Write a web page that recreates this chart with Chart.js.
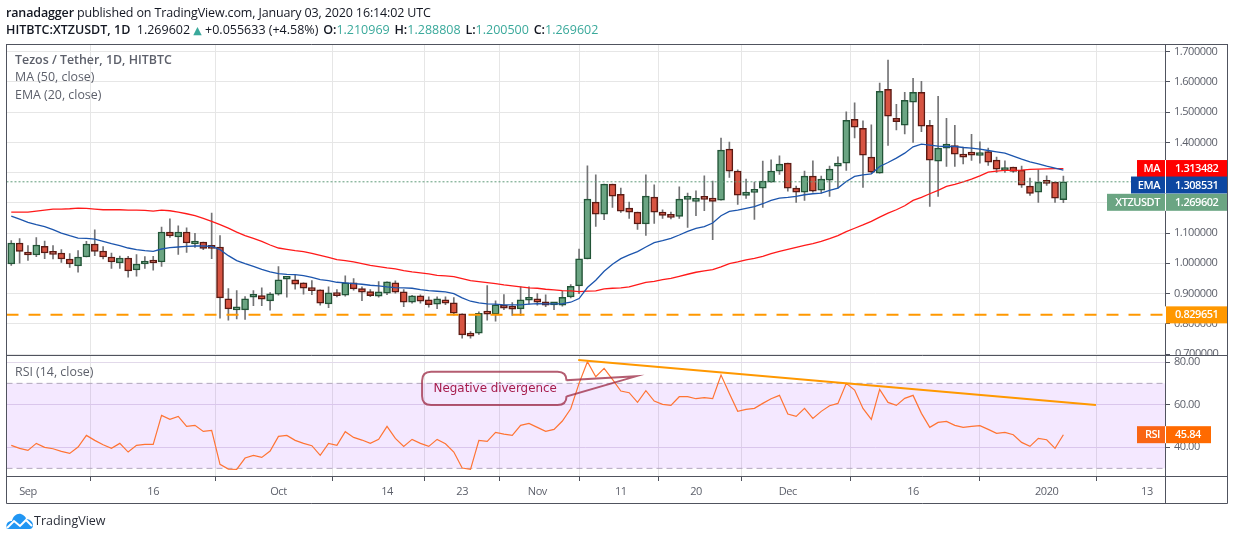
<!DOCTYPE html>
<html>
<head>
<meta charset="utf-8">
<title>XTZUSDT</title>
<script src="https://cdn.jsdelivr.net/npm/chart.js@4"></script>
<style>
  html, body { margin: 0; padding: 0; background: #fff; width: 1234px; height: 540px; overflow: hidden; }
  canvas { position: absolute; left: 0; top: 0; }
  .t { position: absolute; white-space: nowrap; font-family: "Open Sans", sans-serif; line-height: 16px; }
  .h { font-size: 12.5px; color: #131722; left: 6px; }
  .h b { font-weight: 600; }
  .h .k { margin-left: 1.5px; }
  .v { color: #3aa99b; }
  .l { font-size: 12.4px; color: #5d606b; left: 15px; }
</style>
</head>
<body>
<canvas id="chart" width="1234" height="540"></canvas>
<div class="t h" style="top:5px;letter-spacing:-0.14px"><b>ranadagger</b> published on TradingView.com, January 03, 2020 16:14:02 UTC</div>
<div class="t h" style="top:22px"><b>HITBTC:XTZUSDT, 1D</b>&nbsp; 1.269602 <span class="v" style="font-family:'DejaVu Sans';font-size:11px">▲</span> +0.055633 (+4.58%) <b class="k">O:</b><span class="v">1.210969</span> <b class="k">H:</b><span class="v">1.288808</span> <b class="k">L:</b><span class="v">1.200500</span> <b class="k">C:</b><span class="v">1.269602</span></div>
<div class="t l" style="top:52px;font-weight:600">Tezos / Tether, 1D, HITBTC</div>
<div class="t l" style="top:69px">MA (50, close)</div>
<div class="t l" style="top:87px">EMA (20, close)</div>
<div class="t l" style="top:364px">RSI (14, close)</div>
<svg style="position:absolute;left:6px;top:513px" width="27" height="17" viewBox="0 0 27 17">
  <path fill="#2196f3" d="M1 16 C-1 11 2 8 6 8 C7 3 11 0 15 1 C18 2 20 4 20 6 C24 6 27 9 27 12 C27 15 25 16 24 16 Z"/>
  <path fill="none" stroke="#fff" stroke-width="2" d="M1 15 L8 8 L14 13 L20 7 L26 13"/>
</svg>
<div class="t" style="left:34px;top:513px;font-size:12.5px;color:#2a2e39">TradingView</div>

<script>
// bougies journalieres, du 30 aout au 3 janvier
const opens = [.9979,1.0672,1.0375,1.0276,1.0562,1.0342,1.0342,1.0144,.9913,1.021,1.0639,1.0408,1.021,1.0012,1.0177,.9781,.9979,1.0023,1.0045,1.1035,1.087,1.1035,1.0639,1.0705,1.054,1.054,.8824,.8461,.8461,.8879,.8934,.8758,.8978,.9473,.9451,.9352,.9198,.9121,.8659,.9033,.8945,.9352,.9165,.9066,.8912,.9011,.9352,.9055,.8714,.8923,.8791,.8648,.8791,.8692,.8329,.7647,.7691,.834,.8318,.8615,.8494,.8494,.878,.8824,.8725,.8626,.8615,.889,.9253,1.0145,1.2026,1.163,1.262,1.2279,1.1828,1.1696,1.13,1.2191,1.1696,1.1564,1.1553,1.2114,1.2048,1.2158,1.2158,1.2092,1.3775,1.3049,1.2246,1.2345,1.2488,1.2686,1.3049,1.3313,1.2488,1.2356,1.2884,1.2422,1.2752,1.3214,1.3313,1.4765,1.4468,1.351,1.2983,1.5755,1.4798,1.4567,1.5326,1.5656,1.4567,1.3379,1.3808,1.3896,1.361,1.361,1.3566,1.3698,1.3412,1.3071,1.3181,1.3082,1.2554,1.2356,1.2708,1.2686,1.2108];
const highs = [1.0749,1.0815,1.0584,1.0848,1.0738,1.0584,1.0452,1.032,1.0419,1.0727,1.1112,1.0551,1.0342,1.0243,1.0232,1.0287,1.0221,1.0232,1.12,1.1475,1.1244,1.1178,1.0992,1.0705,1.1662,1.0914,.9165,.9099,.89,.9099,.9187,.9033,.9891,.9528,.9616,.9352,.9429,.9121,.922,.9132,.959,.9495,.922,.9132,.9396,.9385,.9418,.9132,.8945,.8956,.889,.889,.889,.8868,.8329,.7746,.8395,.9264,.8758,.8967,.8703,.922,.922,.8999,.8956,.8692,.9077,.9297,1.0475,1.3225,1.2928,1.262,1.262,1.2488,1.2026,1.1696,1.2928,1.2598,1.1773,1.1696,1.2532,1.2323,1.24,1.2895,1.2719,1.4138,1.4006,1.3093,1.2785,1.2686,1.3379,1.3423,1.3555,1.3313,1.2554,1.3049,1.339,1.2884,1.3214,1.3522,1.5007,1.5304,1.471,1.4578,1.5964,1.6723,1.526,1.5656,1.6118,1.6019,1.4732,1.5524,1.4798,1.4567,1.3841,1.427,1.4017,1.3808,1.3511,1.339,1.3181,1.3214,1.2818,1.3093,1.2895,1.2686,1.2888];
const lows = [.9935,1.0002,1.01,1.0221,1.0155,1.0144,1.0034,.9869,.9704,1.021,1.0254,1.0144,.9836,.9836,.9539,.9572,.9836,.977,.9902,1.0859,1.0298,1.0364,1.0529,1.0452,1.0155,.8186,.812,.8164,.8142,.8604,.8604,.845,.8945,.8879,.9143,.8978,.8967,.8615,.8538,.889,.8912,.911,.8769,.8901,.8879,.8967,.9011,.857,.8681,.8681,.8549,.8505,.8637,.8284,.7526,.7526,.7647,.812,.8087,.8472,.8274,.8274,.8648,.8615,.857,.8472,.8582,.8857,.9,1.0145,1.1223,1.1443,1.185,1.1685,1.1487,1.1124,1.0926,1.1322,1.1487,1.1465,1.1487,1.119,1.1575,1.174,1.0783,1.2092,1.284,1.1949,1.2147,1.1454,1.185,1.2686,1.2939,1.2389,1.2015,1.2081,1.2356,1.2323,1.2213,1.2488,1.3071,1.4149,1.251,1.2983,1.2983,1.3896,1.4413,1.428,1.4,1.4358,1.1882,1.2213,1.3203,1.3203,1.3291,1.3401,1.3313,1.3236,1.3005,1.3005,1.3005,1.251,1.2246,1.2015,1.2576,1.2015,1.2005];
const closes = [1.0672,1.0397,1.0276,1.0606,1.0342,1.0298,1.0144,.9979,1.021,1.0639,1.0397,1.021,1.0045,1.0177,.9748,.9979,1.0023,1.0012,1.1035,1.0903,1.1035,1.0672,1.0705,1.0496,1.0496,.8857,.8494,.8505,.8824,.8934,.8813,.8989,.9451,.9528,.9308,.9176,.9099,.8681,.9022,.8934,.9352,.9154,.9044,.8934,.9055,.9385,.9044,.8714,.8923,.8747,.8637,.8824,.8681,.835,.7636,.7591,.835,.8318,.8626,.8516,.8483,.8791,.8857,.8714,.8615,.8659,.8879,.9242,1.0145,1.2125,1.163,1.262,1.2224,1.1729,1.1696,1.13,1.2224,1.1696,1.1586,1.152,1.2125,1.2158,1.2092,1.2114,1.2048,1.3742,1.3049,1.2257,1.2356,1.24,1.2719,1.3049,1.328,1.2488,1.2356,1.2884,1.2389,1.2785,1.3115,1.3313,1.4732,1.4501,1.3577,1.3016,1.5689,1.4864,1.4688,1.5392,1.5656,1.4534,1.3412,1.3808,1.394,1.361,1.351,1.3577,1.361,1.3346,1.3115,1.3148,1.3038,1.2587,1.2312,1.2686,1.2642,1.2158,1.2696];

const ma50 = [1.1695,1.1695,1.1695,1.1728,1.1761,1.1794,1.1794,1.1805,1.1827,1.1816,1.1794,1.1772,1.1772,1.1772,1.1761,1.1761,1.175,1.1728,1.1761,1.1739,1.1695,1.164,1.1574,1.1486,1.1387,1.1277,1.1167,1.1035,1.0914,1.0826,1.0727,1.0606,1.0507,1.0463,1.0419,1.0386,1.0331,1.0265,1.0199,1.0122,1.0089,1.0045,.999,.9935,.9891,.9847,.9814,.9759,.9715,.9682,.9649,.9605,.9583,.9561,.9495,.9429,.9396,.9363,.933,.9286,.9253,.922,.9187,.9176,.9143,.9121,.9099,.9088,.9066,.9078,.9088,.9154,.9176,.9187,.922,.9297,.9374,.9407,.9462,.9506,.9572,.9639,.9705,.9749,.9793,.9881,.9991,1.0046,1.0112,1.0167,1.0233,1.0321,1.0398,1.0464,1.053,1.0596,1.0651,1.0728,1.0816,1.0915,1.1047,1.116,1.127,1.139,1.153,1.1662,1.1772,1.1904,1.2081,1.218,1.2301,1.2411,1.2543,1.2609,1.2697,1.2785,1.2895,1.3016,1.3049,1.3071,1.3071,1.3082,1.3104,1.3115,1.3126,1.3132,1.3135];
const ema20 = [1.1563,1.1464,1.1354,1.1277,1.1211,1.1112,1.1002,1.0914,1.0837,1.0826,1.0804,1.0727,1.065,1.0584,1.0507,1.0452,1.0419,1.0397,1.0474,1.0518,1.054,1.0562,1.0573,1.0573,1.0562,1.0452,1.0254,1.0089,.999,.9902,.9803,.9715,.966,.9638,.9627,.9594,.9539,.9462,.9429,.9374,.9352,.933,.9308,.9275,.9253,.922,.9198,.9187,.9176,.9132,.9099,.9077,.9055,.9,.8857,.8747,.8692,.8659,.8648,.8626,.8626,.8626,.8648,.867,.8659,.8659,.867,.8714,.8835,.92,.9441,.9738,.9969,1.0156,1.0277,1.0387,1.0541,1.0684,1.075,1.0827,1.0937,1.1058,1.1157,1.1212,1.1333,1.1575,1.1718,1.1762,1.1817,1.1872,1.1971,1.2081,1.2158,1.218,1.2213,1.2268,1.2301,1.2323,1.2411,1.2488,1.2708,1.2873,1.2928,1.2961,1.3203,1.3335,1.3478,1.3643,1.3852,1.394,1.3907,1.3874,1.3863,1.3863,1.383,1.3808,1.3775,1.3731,1.3687,1.3643,1.3544,1.3445,1.3357,1.3291,1.3214,1.3148,1.3085];
const rsi14 = [40.81,39.4,38.45,41.75,39.87,39.24,37.98,37.04,40.02,45.51,43.16,41.12,39.4,41.75,37.67,40.81,41.28,41.28,54.92,53.04,54.45,49.75,50.22,47.4,47.87,31.87,29.67,29.51,34.85,36.1,35.16,38.14,45.04,45.51,43.16,41.75,40.65,36.1,41.75,40.8,47.24,44.57,43.31,41.75,43.63,49.75,44.1,40.33,43.63,41.75,40.34,43.63,41.59,37.67,30.14,29.51,43.16,42.69,46.92,46.14,45.51,50.22,51.16,49.28,47.4,48.34,52.26,58.06,69.98,80.18,73.12,77.04,71.87,66.38,65.59,61.04,66.53,61.67,60.1,59.63,63.71,63.71,62.77,63.24,62.77,73.91,65.28,56.81,57.75,58.22,60.57,62.77,64.34,55.55,54.45,58.22,53.51,56.81,59.47,60.57,69.98,66.85,58.22,53.04,67.16,61.04,59.63,62.92,64.34,55.87,49.28,51.63,52.1,50.22,49.28,49.75,50.06,48.34,46.45,46.92,45.83,42.22,40.34,44.1,43.47,39.4,45.84];

// axes
const timeTicks = [2,17,32,45,54,63,73,82,93,108,124,136];
const timeLabels = ["Sep","16","Oct","14","23","Nov","11","20","Dec","16","2020","13"];
const priceTicks = [0.7,0.8,0.9,1.0,1.1,1.2,1.3,1.4,1.5,1.6,1.7];
const rsiTicks = [40,60,80];

// niveaux et lignes tracees a la main sur le graphique
const supportLevel = 0.829651;
const lastPrice = 1.269602;
const lastMa = 1.313482;
const lastEma = 1.308531;
const lastRsi = 45.84;
const rsiBand = [70, 30];
const trendX = [67.9, 129.9];
const trendY = [81, 59.8];

const xMin = -0.57;
const xMax = 138.17;
const FONT = '"Open Sans", sans-serif';
const TIGHT = "-0.45px";

const upFill = "#6ba583", upLine = "#225437";
const downFill = "#d75442", downLine = "#5b1a13";

const isUp = (i) => closes[i] >= opens[i];
const series = (arr) => arr.map((v, i) => ({ x: i, y: v }));
const hLine = (v) => [{ x: xMin, y: v }, { x: xMax, y: v }];

const decorPlugin = {
  id: "decor",
  beforeDraw(chart) {
    // les libelles d'axes sont plus serres que la police dispo
    chart.ctx.letterSpacing = TIGHT;
  },
  afterDatasetsDraw(chart) {
    const { ctx } = chart;
    const x = chart.scales.x;
    const r = chart.scales.rsi;
    // bulle "Negative divergence"
    const left = x.getPixelForValue(49.2), right = x.getPixelForValue(66.5);
    const top = r.getPixelForValue(75.4), bottom = r.getPixelForValue(59.8);
    const tipX = x.getPixelForValue(74.8), tipY = r.getPixelForValue(73.3);
    const tailA = r.getPixelForValue(71.5), tailB = r.getPixelForValue(63.8);
    const rad = 9;
    ctx.save();
    ctx.beginPath();
    ctx.moveTo(left + rad, top);
    ctx.lineTo(right - rad, top);
    ctx.quadraticCurveTo(right, top, right, top + rad);
    ctx.lineTo(right, tailA);
    ctx.lineTo(tipX, tipY);
    ctx.lineTo(right, tailB);
    ctx.lineTo(right, bottom - rad);
    ctx.quadraticCurveTo(right, bottom, right - rad, bottom);
    ctx.lineTo(left + rad, bottom);
    ctx.quadraticCurveTo(left, bottom, left, bottom - rad);
    ctx.lineTo(left, top + rad);
    ctx.quadraticCurveTo(left, top, left + rad, top);
    ctx.closePath();
    ctx.strokeStyle = "rgba(155,39,66,0.75)";
    ctx.lineWidth = 2;
    ctx.stroke();
    ctx.letterSpacing = "0px";
    ctx.fillStyle = "#a61c4b";
    ctx.font = '11.9px "DejaVu Sans", sans-serif';
    ctx.textAlign = "left";
    ctx.textBaseline = "middle";
    ctx.fillText("Negative divergence", left + 11.5, (top + bottom) / 2);
    ctx.restore();
  },
  afterDraw(chart) {
    const { ctx, chartArea: a } = chart;
    const p = chart.scales.y;
    const r = chart.scales.rsi;
    const sep = Math.round(p.bottom) + 0.5;
    const frameR = 1227.5, frameB = 503.5;

    ctx.save();
    // 0.700000 coupe par le panneau RSI
    ctx.save();
    ctx.beginPath();
    ctx.rect(a.right + 1, p.top, 61, p.bottom - p.top);
    ctx.clip();
    ctx.fillStyle = "#5d606b";
    ctx.font = "11px " + FONT;
    ctx.textAlign = "left";
    ctx.textBaseline = "middle";
    ctx.fillText((0.7).toFixed(6), a.right + 10, p.getPixelForValue(0.7));
    ctx.restore();

    // cadre
    ctx.strokeStyle = "#50535e";
    ctx.lineWidth = 1;
    ctx.beginPath();
    ctx.moveTo(6.5, a.top + 0.5); ctx.lineTo(frameR, a.top + 0.5);
    ctx.moveTo(6.5, sep); ctx.lineTo(frameR, sep);
    ctx.moveTo(6.5, a.bottom + 0.5); ctx.lineTo(frameR, a.bottom + 0.5);
    ctx.moveTo(6.5, frameB); ctx.lineTo(frameR, frameB);
    ctx.moveTo(6.5, a.top); ctx.lineTo(6.5, frameB);
    ctx.moveTo(a.right + 0.5, a.top); ctx.lineTo(a.right + 0.5, frameB);
    ctx.moveTo(frameR, a.top); ctx.lineTo(frameR, frameB);
    ctx.stroke();

    // etiquettes de prix
    const tag = (name, val, cy, nameW, valW, c1, c2) => {
      const h = 17, top = cy - h / 2;
      if (name) {
        ctx.fillStyle = c1;
        ctx.fillRect(a.right - nameW, top, nameW, h);
      }
      ctx.fillStyle = "#fff";
      ctx.fillRect(a.right, top, 1, h);
      ctx.fillStyle = c2;
      ctx.fillRect(a.right + 1, top, valW, h);
      ctx.fillStyle = "#fff";
      ctx.font = "600 11px " + FONT;
      ctx.textBaseline = "middle";
      ctx.textAlign = "right";
      if (name) ctx.fillText(name, a.right - 5, cy + 0.5);
      ctx.textAlign = "left";
      ctx.fillText(val, a.right + 10, cy + 0.5);
    };
    tag("MA", lastMa.toFixed(6), p.getPixelForValue(lastMa), 28, 61, "#ff0000", "#ff0000");
    tag("EMA", lastEma.toFixed(6), p.getPixelForValue(lastEma) + 15, 34, 61, "#0d47a1", "#0d47a1");
    tag("XTZUSDT", lastPrice.toFixed(6), p.getPixelForValue(lastPrice) + 20.5, 58, 61, upFill, upFill);
    tag("", supportLevel.toFixed(6), p.getPixelForValue(supportLevel), 0, 61, "#ff9800", "#ff9800");
    tag("RSI", lastRsi.toFixed(2), r.getPixelForValue(lastRsi), 28, 45, "#f96514", "#ff6a00");
    ctx.restore();
  },
};

new Chart(document.getElementById("chart"), {
  type: "bar",
  data: {
    datasets: [
      // bande RSI 70-30
      { type: "line", yAxisID: "rsi", data: hLine(rsiBand[0]), borderColor: "#b2a8bb", borderWidth: 1, borderDash: [6, 4], pointRadius: 0, fill: "+1", backgroundColor: "rgba(155,40,255,0.105)", order: 12 },
      { type: "line", yAxisID: "rsi", data: hLine(rsiBand[1]), borderColor: "#b2a8bb", borderWidth: 1, borderDash: [6, 4], pointRadius: 0, order: 12 },
      // meches
      { data: opens.map((v, i) => ({ x: i, y: [lows[i], highs[i]] })), yAxisID: "y", backgroundColor: "#737375", barThickness: 1, grouped: false, order: 8 },
      // corps des bougies
      { data: opens.map((v, i) => ({ x: i, y: [v, closes[i]] })), yAxisID: "y",
        backgroundColor: opens.map((v, i) => (isUp(i) ? upFill : downFill)),
        borderColor: opens.map((v, i) => (isUp(i) ? upLine : downLine)),
        borderWidth: 1.5, borderSkipped: false, barThickness: 7, minBarLength: 3, grouped: false, order: 7 },
      { type: "line", yAxisID: "y", data: series(ma50), borderColor: "#ff1a1a", borderWidth: 1.3, pointRadius: 0, tension: 0, order: 5 },
      { type: "line", yAxisID: "y", data: series(ema20), borderColor: "#1c55ad", borderWidth: 1.3, pointRadius: 0, tension: 0, order: 4 },
      { type: "line", yAxisID: "y", data: hLine(supportLevel), borderColor: "#ff9800", borderWidth: 2, borderDash: [12, 10], pointRadius: 0, order: 3 },
      { type: "line", yAxisID: "y", data: hLine(lastPrice), borderColor: "#5f9a79", borderWidth: 1, borderDash: [2, 2], pointRadius: 0, order: 3 },
      { type: "line", yAxisID: "rsi", data: series(rsi14), borderColor: "#ff7433", borderWidth: 1.2, pointRadius: 0, tension: 0, order: 2 },
      { type: "line", yAxisID: "rsi", data: trendX.map((v, i) => ({ x: v, y: trendY[i] })), borderColor: "#ff9800", borderWidth: 2, pointRadius: 0, order: 1 },
    ],
  },
  options: {
    responsive: false,
    animation: false,
    devicePixelRatio: 1,
    layout: { padding: { left: 6.5, right: 7, top: 44, bottom: 37 } },
    plugins: { legend: { display: false }, tooltip: { enabled: false } },
    scales: {
      x: {
        type: "linear",
        min: xMin,
        max: xMax,
        offset: false,
        afterBuildTicks: (s) => { s.ticks = timeTicks.map((v) => ({ value: v })); },
        afterFit: (s) => { s.height = 27; },
        border: { display: false },
        grid: { color: "#e6e6e6", tickColor: "#50535e", tickLength: 5 },
        ticks: {
          autoSkip: false, maxRotation: 0, padding: 4, color: "#5d606b",
          font: { family: FONT, size: 11 },
          callback: (v) => timeLabels[timeTicks.indexOf(v)],
        },
      },
      y: {
        type: "linear",
        position: "right",
        stack: "panes",
        stackWeight: 311,
        min: 0.6969,
        max: 1.7253,
        afterBuildTicks: (s) => { s.ticks = priceTicks.map((v) => ({ value: v })); },
        afterFit: (s) => { s.width = 62; },
        border: { display: false },
        grid: { color: "#e6e6e6", tickColor: "#50535e", tickLength: 5 },
        ticks: {
          padding: 4, color: "#5d606b", autoSkip: false,
          font: { family: FONT, size: 11 },
          callback: (v) => (v === 0.7 ? "" : v.toFixed(6)),
        },
      },
      rsi: {
        type: "linear",
        position: "right",
        stack: "panes",
        stackWeight: 121,
        min: 26.4,
        max: 83.34,
        afterBuildTicks: (s) => { s.ticks = rsiTicks.map((v) => ({ value: v })); },
        afterFit: (s) => { s.width = 62; },
        border: { display: false },
        grid: { color: "#e2d9ea", tickColor: "#50535e", tickLength: 5 },
        ticks: {
          padding: 4, color: "#5d606b", autoSkip: false,
          font: { family: FONT, size: 11 },
          callback: (v) => v.toFixed(2),
        },
      },
    },
  },
  plugins: [decorPlugin],
});
</script>
</body>
</html>
